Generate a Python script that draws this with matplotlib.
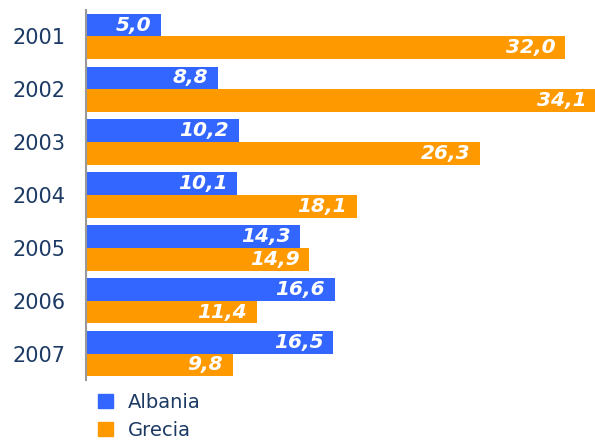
import matplotlib.pyplot as plt
import numpy as np
from matplotlib.patches import Patch

# dati
anni = ['2001', '2002', '2003', '2004', '2005', '2006', '2007']
albania = [5.0, 8.8, 10.2, 10.1, 14.3, 16.6, 16.5]
grecia = [32.0, 34.1, 26.3, 18.1, 14.9, 11.4, 9.8]

blu = '#3366ff'
arancio = '#ff9900'
testo = '#1c3a64'

fig = plt.figure(figsize=(5.95, 4.41), dpi=100)
ax = fig.add_axes([86 / 595, 1 - 380 / 441, (595 - 86) / 595, 370 / 441])

y = np.arange(len(anni))
h = 0.43
ax.barh(y - h / 2, albania, height=h, color=blu)
ax.barh(y + h / 2, grecia, height=h, color=arancio)

# etichette dentro le barre
for yi, v in zip(y - h / 2, albania):
    ax.annotate(f'{v:.1f}'.replace('.', ','), (v, yi), xytext=(-7, 0),
                textcoords='offset points', ha='right', va='center', annotation_clip=False,
                color='white', fontsize=14.5, fontweight='heavy', fontstyle='italic')
for yi, v in zip(y + h / 2, grecia):
    ax.annotate(f'{v:.1f}'.replace('.', ','), (v, yi), xytext=(-7, 0),
                textcoords='offset points', ha='right', va='center', annotation_clip=False,
                color='white', fontsize=14.5, fontweight='heavy', fontstyle='italic')

ax.set_xlim(0, 34.0)
ax.set_ylim(len(anni) - 0.5, -0.5)
ax.set_yticks(y)
ax.set_yticklabels(anni, fontsize=15, color=testo)
ax.tick_params(axis='y', length=0, pad=15)
ax.set_xticks([])
for s in ['top', 'right', 'bottom']:
    ax.spines[s].set_visible(False)
ax.spines['left'].set_color('#999999')
ax.spines['left'].set_linewidth(1.5)

# legenda
handles = [Patch(color=blu, label='Albania'), Patch(color=arancio, label='Grecia')]
leg = fig.legend(handles=handles, loc='upper left', bbox_to_anchor=(98 / 595, 1 - 393 / 441),
                 frameon=False, fontsize=14, handlelength=0.75, handleheight=0.75,
                 handletextpad=0.8, labelspacing=0.45, borderaxespad=0, borderpad=0)
for t in leg.get_texts():
    t.set_color(testo)

fig.savefig('out.png', dpi=100)
